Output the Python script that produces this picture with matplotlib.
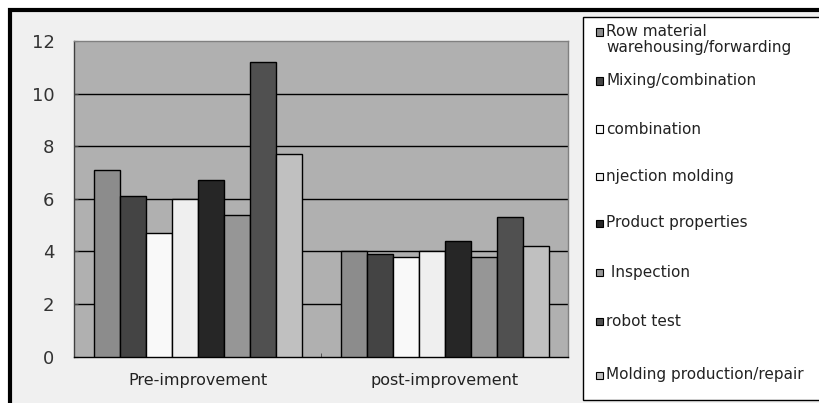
import numpy as np
import matplotlib
matplotlib.use("Agg")
import matplotlib.pyplot as plt
from matplotlib.patches import Rectangle

# data
categories = ["Pre-improvement", "post-improvement"]
series = [
    "Row material\nwarehousing/forwarding",
    "Mixing/combination",
    "combination",
    "njection molding",
    "Product properties",
    " Inspection",
    "robot test",
    "Molding production/repair",
]
pre_vals = [7.1, 6.1, 4.7, 6.0, 6.7, 5.4, 11.2, 7.7]
post_vals = [4.0, 3.9, 3.8, 4.0, 4.4, 3.8, 5.3, 4.2]
yticks = [0, 2, 4, 6, 8, 10, 12]

colors = ["#8c8c8c", "#444444", "#f9f9f9", "#efefef",
          "#262626", "#969696", "#505050", "#c0c0c0"]

W, H = 819, 403
fig = plt.figure(figsize=(W / 100, H / 100), dpi=100)
fig.patch.set_facecolor("white")

# outer chart frame (only top/left edges visible in the crop)
fig.patches.append(Rectangle((10 / W, -20 / H), 1.0, (H - 10 + 20) / H,
                             transform=fig.transFigure, facecolor="#f0f0f0",
                             edgecolor="black", linewidth=3, zorder=-2))

ax = fig.add_axes([74 / W, (H - 356.5) / H, 494 / W, 315.5 / H])
ax.set_facecolor("#b0b0b0")

n = len(series)
w = 1 / (n + 1.5)
x = np.arange(len(categories))
for i in range(n):
    vals = [pre_vals[i], post_vals[i]]
    ax.bar(x + (i - (n - 1) / 2) * w, vals, width=w, color=colors[i],
           edgecolor="black", linewidth=1, zorder=3)

ax.set_xlim(-0.5, 1.5)
ax.set_ylim(0, 12)
ax.set_yticks(yticks)
ax.set_yticklabels([str(v) for v in yticks], fontsize=13, color="#333333")
ax.tick_params(axis="y", direction="in", length=3, pad=14, color="#404040")
for v in yticks[1:-1]:
    ax.axhline(v, color="black", linewidth=1, zorder=1)

ax.set_xticks(x)
ax.set_xticklabels(categories, fontsize=11.5, color="#222222")
ax.tick_params(axis="x", length=0, pad=12)
ax.set_xticks([0.5], minor=True)
ax.tick_params(axis="x", which="minor", direction="in", length=3, color="#404040")

ax.spines["left"].set_color("#404040")
ax.spines["top"].set_color("#808080")
ax.spines["right"].set_color("#808080")
ax.spines["bottom"].set_color("black")
for s in ax.spines.values():
    s.set_linewidth(1)

# legend box, drawn by hand to match the uneven spacing
fig.patches.append(Rectangle((583 / W, 3 / H), 1.0, (386 - 3) / H,
                             transform=fig.transFigure, facecolor="white",
                             edgecolor="black", linewidth=1, zorder=1))
label_y = [32, 81, 129, 176, 223, 272, 321, 375]
for i, (lab, yy) in enumerate(zip(series, label_y)):
    fig.patches.append(Rectangle((596 / W, (H - yy - 3.5) / H), 7 / W, 7 / H,
                                 transform=fig.transFigure, facecolor=colors[i],
                                 edgecolor="black", linewidth=0.8, zorder=2))
    if "\n" in lab:
        fig.text(606 / W, (H - yy + 8) / H, lab, fontsize=11, color="#222222",
                 va="top", ha="left", linespacing=1.05, zorder=3)
    else:
        fig.text(606 / W, (H - yy) / H, lab, fontsize=11, color="#222222",
                 va="center", ha="left", zorder=3)

fig.savefig("out.png", dpi=100, facecolor=fig.get_facecolor())
